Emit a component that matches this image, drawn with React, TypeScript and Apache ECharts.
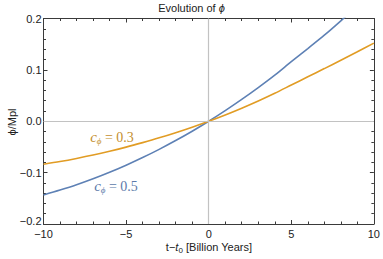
import React, { useEffect, useRef } from 'react';
import * as echarts from 'echarts';

const tValues = [-10, -9, -8, -7, -6, -5, -4, -3, -2, -1, 0, 1, 2, 3, 4, 5, 6, 7, 8, 9, 10];
const phiC05 = [-0.1435, -0.134, -0.1237, -0.1121, -0.0994, -0.0856, -0.0707, -0.0547, -0.0376, -0.0194, 0, 0.0207, 0.0425, 0.0655, 0.0897, 0.116, 0.1415, 0.1675, 0.1955, 0.2245, 0.2545];
const phiC03 = [-0.0837, -0.0784, -0.0724, -0.0658, -0.0584, -0.0504, -0.0416, -0.0323, -0.0222, -0.0115, 0, 0.0123, 0.0255, 0.0395, 0.0545, 0.0705, 0.0865, 0.1025, 0.1188, 0.1352, 0.152];
const xTicks = [-10, -5, 0, 5, 10];
const yTicks = [-0.2, -0.1, 0, 0.1, 0.2];
const curveLabels = ['0.3', '0.5'];

const MINUS = '\u2212';
const fmtX = (v: number) => (v < 0 ? MINUS + Math.abs(v) : String(v));
const fmtY = (v: number) => {
  const s = v < 0 ? MINUS + Math.abs(v).toFixed(1) : v.toFixed(1);
  return Math.abs(v - yTicks[0]) < 1e-9 ? '{lo|' + s + '}' : s;
};

export default function App() {
  const ref = useRef<HTMLDivElement>(null);
  useEffect(() => {
    document.body.style.margin = '0';
    const chart = echarts.init(ref.current!, null, { renderer: 'svg' });
    const axisColor = '#3a3a3a';
    const sans = 'Liberation Sans, Arial, sans-serif';
    const serif = 'Liberation Serif, Times New Roman, serif';
    const baseX = (pos: 'bottom' | 'top', showLabel: boolean) => ({
      type: 'value',
      position: pos,
      min: xTicks[0],
      max: xTicks[xTicks.length - 1],
      interval: 5,
      axisLine: { show: true, onZero: false, lineStyle: { color: axisColor, width: 1 } },
      axisTick: { show: true, inside: true, length: 4, lineStyle: { color: axisColor, width: 1 } },
      minorTick: { show: true, splitNumber: 5, length: 2.5, lineStyle: { color: axisColor, width: 1 } },
      splitLine: { show: false },
      minorSplitLine: { show: false },
      axisLabel: {
        show: showLabel,
        color: '#222',
        fontSize: 11,
        fontFamily: sans,
        margin: 4,
        formatter: fmtX,
      },
    });
    const baseY = (pos: 'left' | 'right', showLabel: boolean) => ({
      type: 'value',
      position: pos,
      min: yTicks[0],
      max: yTicks[yTicks.length - 1],
      interval: 0.1,
      axisLine: { show: true, onZero: false, lineStyle: { color: axisColor, width: 1 } },
      axisTick: { show: true, inside: true, length: 4, lineStyle: { color: axisColor, width: 1 } },
      minorTick: { show: true, splitNumber: 5, length: 2.5, lineStyle: { color: axisColor, width: 1 } },
      splitLine: { show: false },
      minorSplitLine: { show: false },
      axisLabel: {
        show: showLabel,
        color: '#222',
        fontSize: 11,
        fontFamily: sans,
        margin: 2,
        formatter: fmtY,
        rich: {
          lo: { color: '#222', fontSize: 11, fontFamily: sans, padding: [0, 0, 6, 0] },
        },
      },
    });
    chart.setOption({
      animation: false,
      backgroundColor: '#ffffff',
      grid: { left: 43.5, right: 6, top: 18.5, bottom: 35, containLabel: false },
      xAxis: [baseX('bottom', true), baseX('top', false)],
      yAxis: [baseY('left', true), baseY('right', false)],
      series: [
        {
          type: 'line',
          data: [[0, 0]],
          showSymbol: false,
          lineStyle: { opacity: 0 },
          z: 1,
          markLine: {
            silent: true,
            symbol: 'none',
            label: { show: false },
            lineStyle: { color: '#c2c2c2', width: 1.2, type: 'solid' },
            data: [{ xAxis: 0 }, { yAxis: 0 }],
          },
        },
        {
          type: 'line',
          name: 'c=0.5',
          data: tValues.map((t, i) => [t, phiC05[i]]),
          showSymbol: false,
          smooth: 0.3,
          clip: true,
          color: '#5E81B5',
          lineStyle: { color: '#5E81B5', width: 1.6 },
          z: 3,
        },
        {
          type: 'line',
          name: 'c=0.3',
          data: tValues.map((t, i) => [t, phiC03[i]]),
          showSymbol: false,
          smooth: 0.3,
          clip: true,
          color: '#E19C24',
          lineStyle: { color: '#E19C24', width: 1.6 },
          z: 3,
        },
      ],
      graphic: [
        {
          type: 'text',
          left: 'center',
          top: 2,
          style: {
            text: 'Evolution of {i|ϕ}',
            fill: '#222',
            font: `11px ${sans}`,
            rich: { i: { fontStyle: 'italic', fontSize: 11, fontFamily: sans, fill: '#222' } },
          },
        },
        {
          type: 'text',
          x: 12,
          y: 122,
          rotation: Math.PI / 2,
          style: {
            text: 'ϕ/Mpl',
            fill: '#222',
            font: `11px ${sans}`,
            align: 'center',
            verticalAlign: 'middle',
          },
        },
        {
          type: 'text',
          x: 209,
          y: 247,
          style: {
            text: 't' + MINUS + '{it|t}{sub|0} [Billion Years]',
            fill: '#222',
            font: `11px ${sans}`,
            align: 'center',
            verticalAlign: 'middle',
            rich: {
              it: { fontStyle: 'italic', fontSize: 11, fontFamily: sans, fill: '#222', lineHeight: 14, verticalAlign: 'middle' },
              sub: { fontSize: 8, fontFamily: sans, fill: '#222', lineHeight: 14, verticalAlign: 'bottom', padding: [5, 0, 0, 0] },
            },
          },
        },
        {
          type: 'text',
          x: 112,
          y: 137,
          style: {
            text: '{c|c}{s|ϕ}{n| = ' + curveLabels[0] + '}',
            fill: '#C48F30',
            align: 'center',
            verticalAlign: 'middle',
            rich: {
              c: { fontStyle: 'italic', fontSize: 15, fontFamily: serif, fill: '#C48F30', lineHeight: 18 },
              s: { fontStyle: 'italic', fontSize: 9, fontFamily: serif, fill: '#C48F30', lineHeight: 18, padding: [7, 0, 0, 0] },
              n: { fontSize: 14, fontFamily: serif, fill: '#C48F30', lineHeight: 18 },
            },
          },
        },
        {
          type: 'text',
          x: 116,
          y: 186,
          style: {
            text: '{c|c}{s|ϕ}{n| = ' + curveLabels[1] + '}',
            fill: '#5C7AAA',
            align: 'center',
            verticalAlign: 'middle',
            rich: {
              c: { fontStyle: 'italic', fontSize: 15, fontFamily: serif, fill: '#5C7AAA', lineHeight: 18 },
              s: { fontStyle: 'italic', fontSize: 9, fontFamily: serif, fill: '#5C7AAA', lineHeight: 18, padding: [7, 0, 0, 0] },
              n: { fontSize: 14, fontFamily: serif, fill: '#5C7AAA', lineHeight: 18 },
            },
          },
        },
      ],
    });
    return () => chart.dispose();
  }, []);
  return (
    <div
      ref={ref}
      style={{ position: 'fixed', left: 0, top: 0, width: 383, height: 259, background: '#fff' }}
    />
  );
}
